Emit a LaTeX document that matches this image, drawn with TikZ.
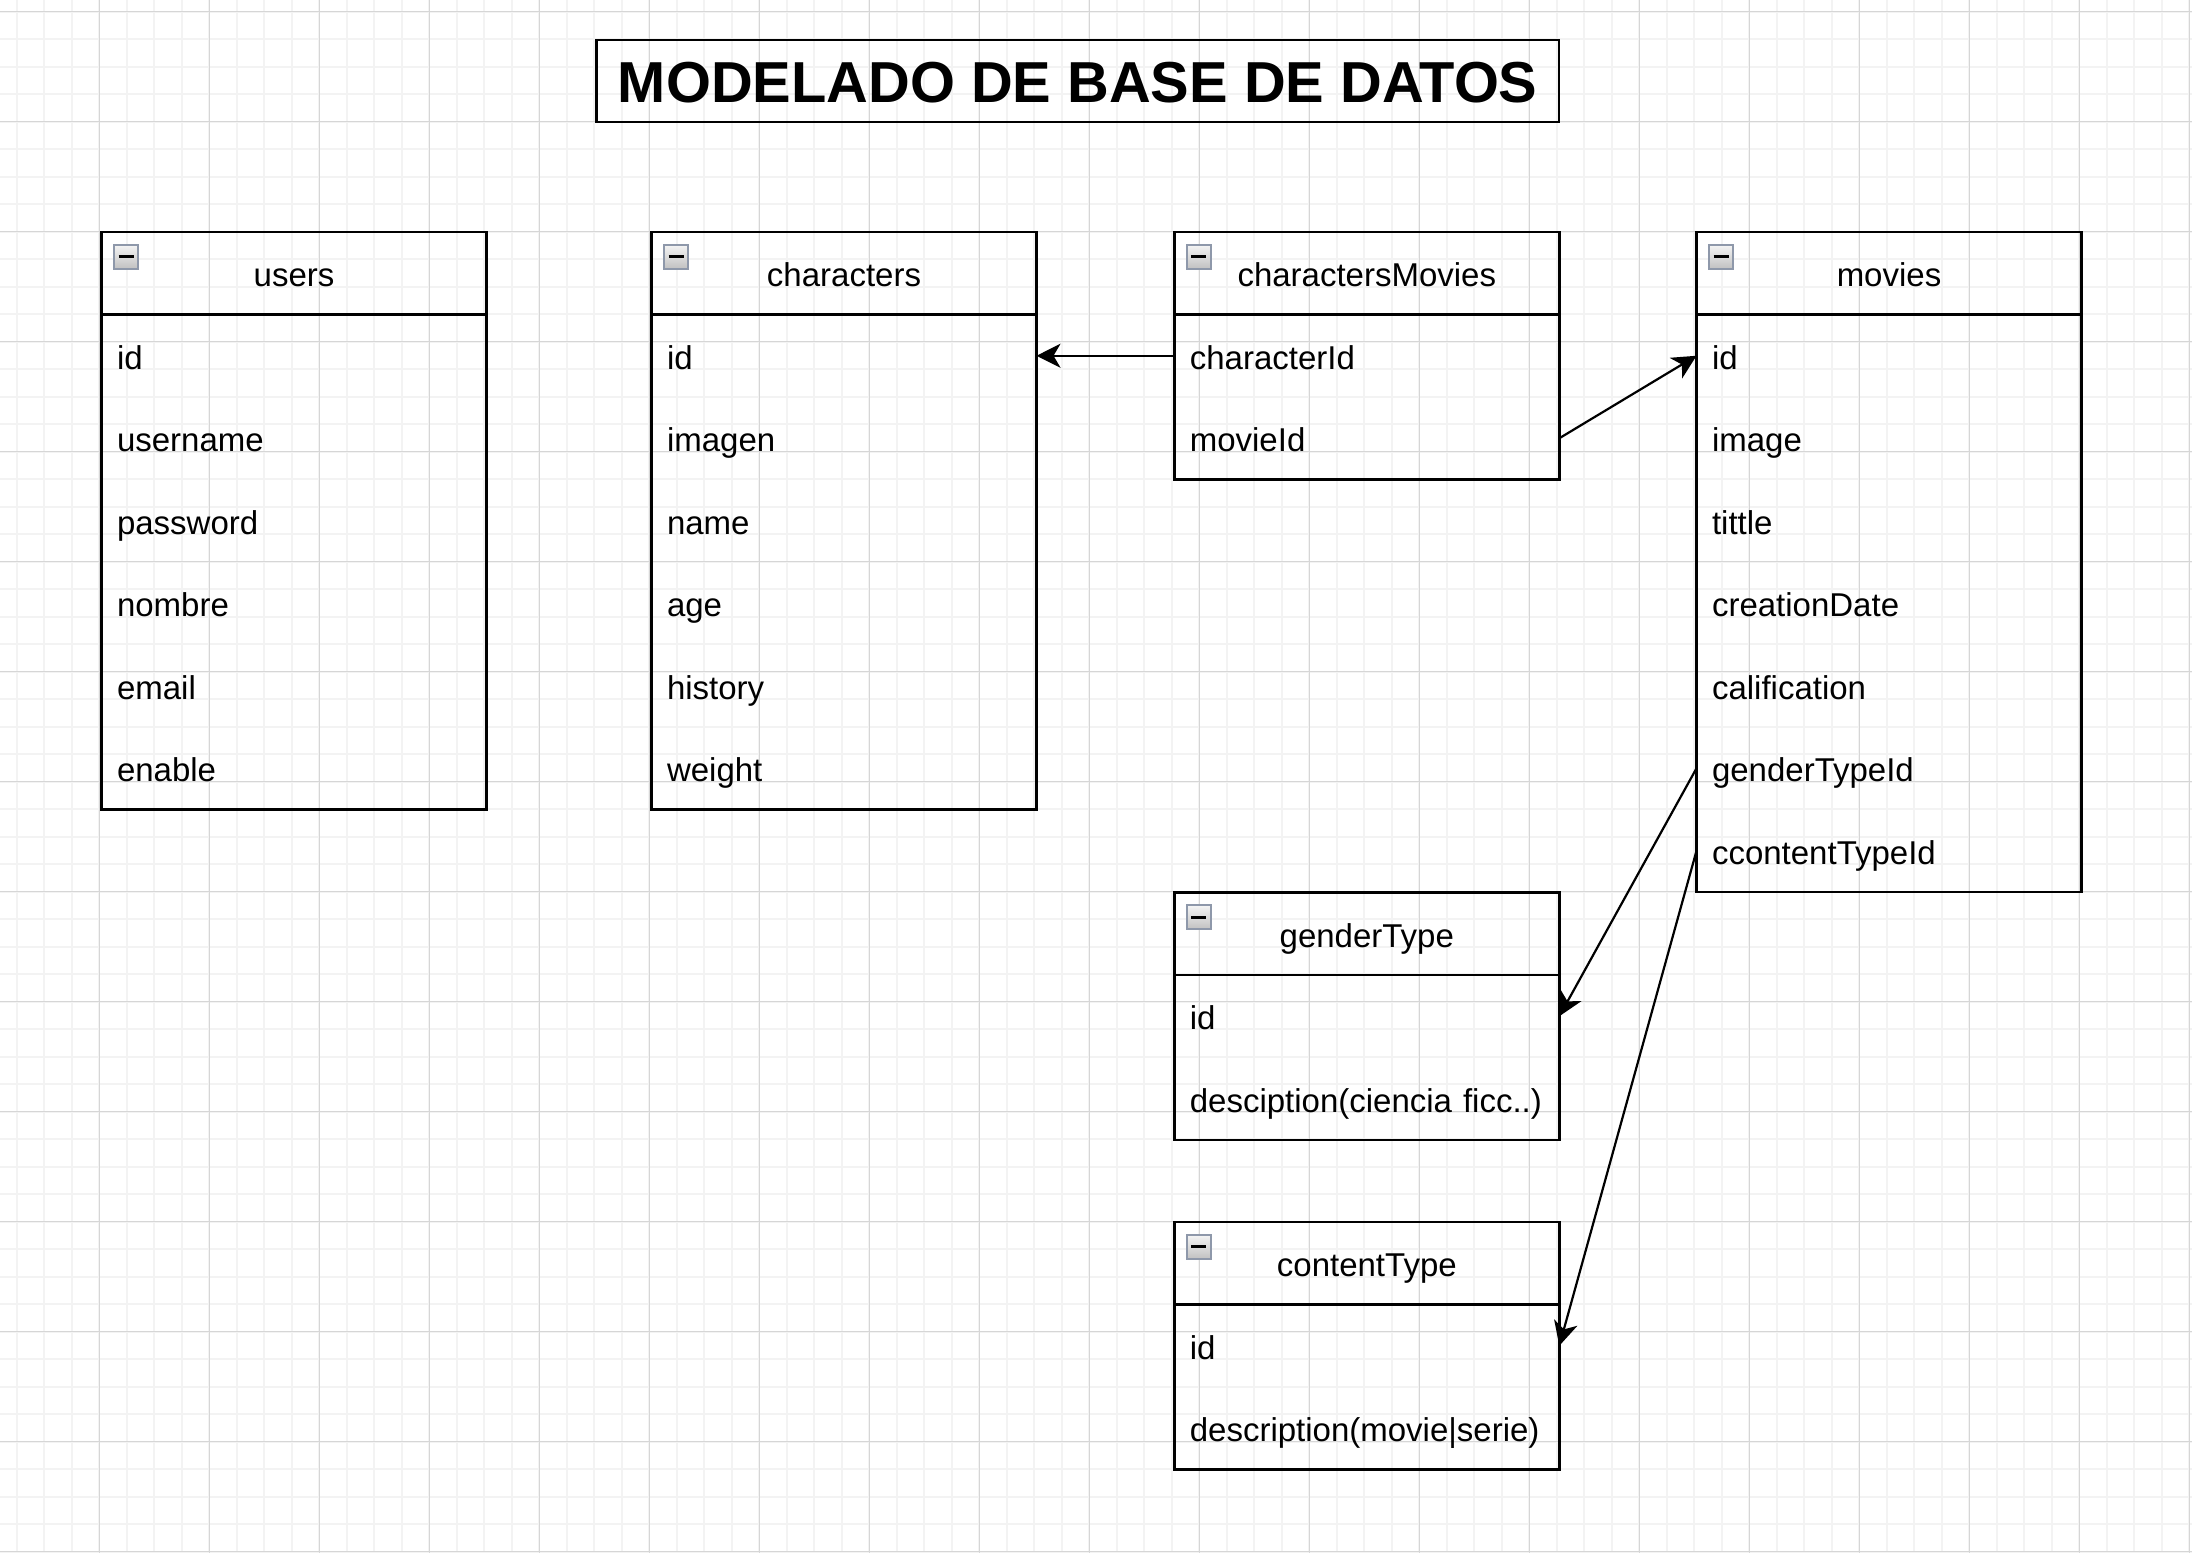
\documentclass[tikz,border=0pt]{standalone}
\usepackage{fontspec}
\setmainfont{Liberation Sans}
\usetikzlibrary{arrows.meta}
\definecolor{gridmajor}{HTML}{D6D6D6}
\definecolor{gridminor}{HTML}{F3F3F3}
\definecolor{iconborder}{HTML}{8E98AA}
\tikzset{
  hdr/.style={draw, line width=2.5pt, minimum width=385pt, minimum height=82.5pt,
    anchor=north west, inner sep=0pt, outer sep=0pt, text height=27pt, text depth=0pt,
    font=\fontsize{33}{40}\selectfont},
  rowtext/.style={minimum height=82.5pt, anchor=north west, inner xsep=15.5pt,
    inner ysep=0pt, outer sep=0pt, text width=354pt, align=left,
    text height=27pt, text depth=0pt, font=\fontsize{33}{40}\selectfont},
  boxline/.style={draw, line width=2.5pt},
  titlebox/.style={draw, line width=2.5pt, minimum width=962.5pt, minimum height=82pt,
    anchor=north west, inner sep=0pt, outer sep=0pt, text height=42pt, text depth=0pt,
    font=\fontsize{57.8}{68}\selectfont\bfseries},
  link/.style={line width=2.2pt, -{Stealth[length=24pt, width=24pt, inset=7pt]}},
  minorline/.style={draw=gridminor, line width=2pt},
  majorline/.style={draw=gridmajor, line width=1.3pt},
}
\newcommand{\erentity}[6]{%
  \node[hdr] (#1) at (#2,#3) {#4};
  \foreach [count=\i] \r in {#6} {
    \node[rowtext] (#1-\i) at (#2,{#3+82.5*\i}) {\r};
  }
  \draw[boxline] (#2,#3) rectangle ({#2+385},{#3+82.5*(#5+1)});
  \shadedraw[top color=black!4, bottom color=black!24, draw=iconborder, line width=2pt]
    ({#2+12.5},{#3+12.5}) rectangle ({#2+36.5},{#3+36.5});
  \draw[line width=3pt] ({#2+17},{#3+24.5}) -- ({#2+32},{#3+24.5});
}
\begin{document}
\begin{tikzpicture}[x=1pt,y=-1pt]
\useasboundingbox (0,0) rectangle (2192,1553);
\fill[white] (0,0) rectangle (2192,1553);
\begin{scope}
\clip (0,0) rectangle (2192,1553);
\foreach \x in {16.8,44.3,...,2200} \draw[minorline] (\x,0) -- (\x,1553);
\foreach \y in {11.7,39.2,...,1560} \draw[minorline] (0,\y) -- (2192,\y);
\foreach \x in {-10.7,99.3,...,2200} \draw[majorline] (\x,0) -- (\x,1553);
\foreach \y in {11.7,121.7,...,1560} \draw[majorline] (0,\y) -- (2192,\y);
\end{scope}

\node[titlebox] (title) at (596.5,40) {MODELADO DE BASE DE DATOS};

\erentity{us}{101.5}{232}{users}{6}{id,username,password,nombre,email,enable}
\erentity{ch}{651.5}{232}{characters}{6}{id,imagen,name,age,history,weight}
\erentity{cm}{1174.3}{232}{charactersMovies}{2}{characterId,movieId}
\erentity{mv}{1696.5}{232}{movies}{7}{id,image,tittle,creationDate,calification,genderTypeId,ccontentTypeId}
\erentity{gt}{1174.3}{892.5}{genderType}{2}{id,desciption(ciencia ficc..)}
\erentity{ct}{1174.3}{1222}{contentType}{2}{id,description(movie|serie)}

\draw[link] (cm-1.west) -- (ch-1.east);
\draw[link] (cm-2.east) -- (mv-1.west);
\draw[link] (mv-6.west) -- (gt-1.east);
\draw[link] (mv-7.west) -- (ct-1.east);
\end{tikzpicture}
\end{document}
